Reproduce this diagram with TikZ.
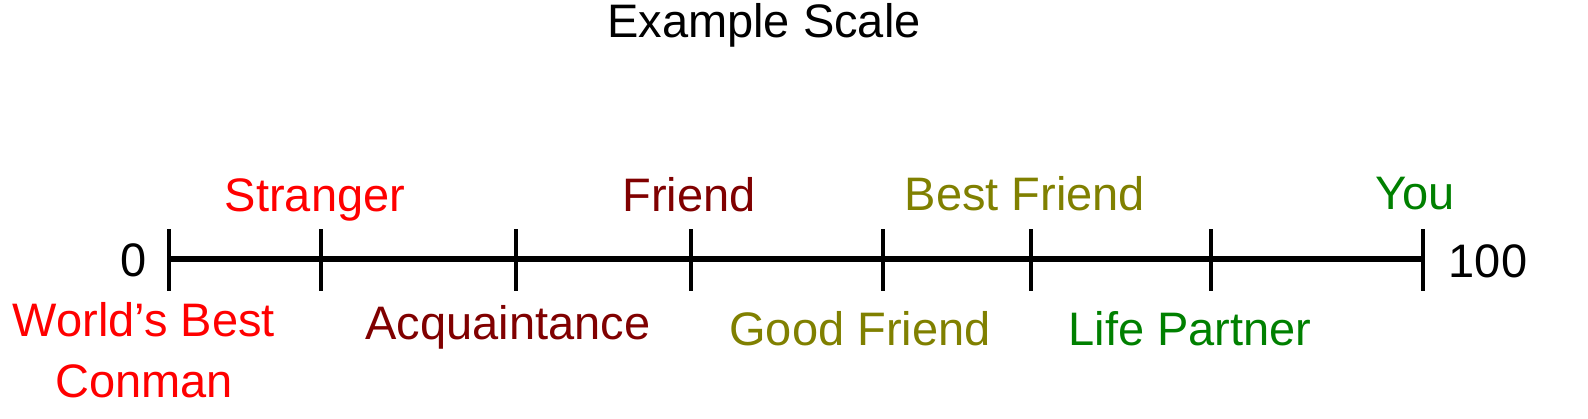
\documentclass[tikz,border=0pt]{standalone}
\usepackage{fontspec}
\setmainfont{Liberation Sans}
\usepackage{tikz}
\definecolor{scalered}{RGB}{255,0,0}
\definecolor{scalemaroon}{RGB}{128,0,0}
\definecolor{scaleolive}{RGB}{128,128,0}
\definecolor{scalegreen}{RGB}{0,128,0}

\begin{document}
\begin{tikzpicture}[x=0.5pt,y=-0.5pt,
    lbl/.style={anchor=base,inner sep=0pt,font=\fontsize{23.5}{30.5}\selectfont}]
    \useasboundingbox (0,0) rectangle (1588,418);
    \coordinate (start) at (169,259);
    \coordinate (stop) at (1423,259);
    \draw[line width=2.75pt] (start) -- (stop);
    \foreach \x/\n in {169/t0,321/t1,516/t2,691/t3,883/t4,1031/t5,1211/t6,1423/t7}
        \draw[line width=2pt] (\x,229) coordinate (\n) -- (\x,291);
    \node[lbl] (title) at (764,37) {Example Scale};
    \node[lbl] (zero) at (134,276) {0};
    \node[lbl] (hundred) at (1488,277) {100};
    \node[lbl,text=scalered] (stranger) at (315,211) {Stranger};
    \node[lbl,text=scalemaroon] (friend) at (689,211) {Friend};
    \node[lbl,text=scaleolive] (bestfriend) at (1025,210) {Best Friend};
    \node[lbl,text=scalegreen] (you) at (1415,209) {You};
    \node[lbl,text=scalered,align=center] (conman) at (144,397) {World’s Best\\Conman};
    \node[lbl,text=scalemaroon] (acquaint) at (508,339) {Acquaintance};
    \node[lbl,text=scaleolive] (goodfriend) at (860,345) {Good Friend};
    \node[lbl,text=scalegreen] (partner) at (1190,345) {Life Partner};
\end{tikzpicture}
\end{document}
